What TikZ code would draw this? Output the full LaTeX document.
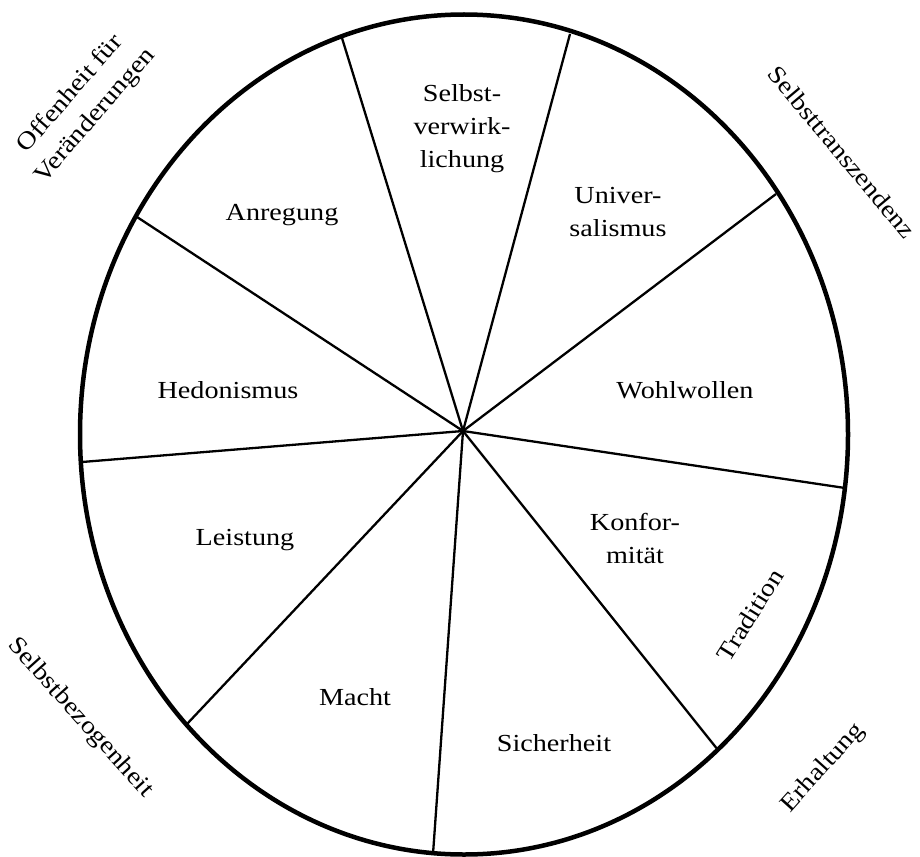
\documentclass[tikz,border=0pt]{standalone}
\usepackage{fontspec}
\setmainfont{Liberation Serif}[FakeStretch=1.15]
\usetikzlibrary{calc}
\begin{document}
\begin{tikzpicture}[x=1pt,y=-1pt,
  lbl/.style={font=\fontsize{24.5}{33}\selectfont, align=center, inner sep=0pt, text=black},
  spoke/.style={line width=2.3pt, black},
  rim/.style={line width=4.5pt, black}]
\useasboundingbox[fill=white] (0,0) rectangle (920,856);
\coordinate (c) at (463,431);
\coordinate (p1) at (342,38);
\coordinate (p2) at (570,34);
\coordinate (p3) at (776,194);
\coordinate (p4) at (845,488);
\coordinate (p5) at (718,750);
\coordinate (p6) at (433,854);
\coordinate (p7) at (187,724);
\coordinate (p8) at (82,462);
\coordinate (p9) at (137,217);
\foreach \p in {p1,p2,p3,p4,p5,p6,p7,p8,p9}
  \draw[spoke] (c) -- (\p);
\draw[rim] (464,434.5) ellipse [x radius=384, y radius=420];
% inner labels
\node[lbl] (sv) at (462,129) {Selbst-\\verwirk-\\lichung};
\node[lbl] (un) at (618,212) {Univer-\\salismus};
\node[lbl] (an) at (282,215) {Anregung};
\node[lbl] (he) at (228,390) {Hedonismus};
\node[lbl] (wo) at (685,390) {Wohlwollen};
\node[lbl] (le) at (245,540) {Leistung};
\node[lbl] (ko) at (635,538) {Konfor-\\mität};
\node[lbl, rotate=58] (tr) at (750,615) {Tradition};
\node[lbl] (ma) at (355,697) {Macht};
\node[lbl] (si) at (554,743) {Sicherheit};
% outer labels
\node[lbl, rotate=49] (of) at (83,105) {Offenheit für\\Veränderungen};
\node[lbl, rotate=-50] (st) at (842,152) {Selbsttranszendenz};
\node[lbl, rotate=-48] (sb) at (80,718) {Selbstbezogenheit};
\node[lbl, rotate=48] (er) at (823,768) {Erhaltung};
\end{tikzpicture}
\end{document}
